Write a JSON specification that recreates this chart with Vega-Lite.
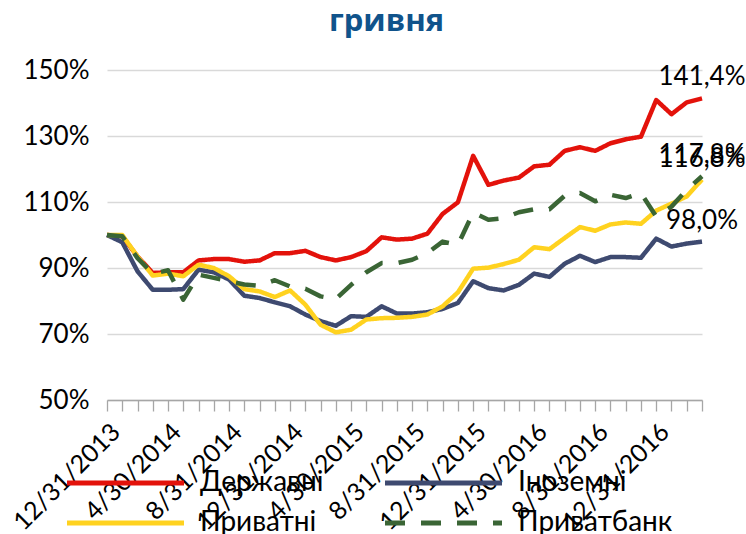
{
  "$schema": "https://vega.github.io/schema/vega-lite/v6.json",
  "autosize": {"type": "none"},
  "width": 595,
  "height": 330,
  "padding": {"left": 107, "top": 70, "right": 44, "bottom": 134},
  "background": "white",
  "title": {"text": "гривня", "font": "Open Sans", "fontSize": 31, "fontWeight": "bold", "color": "#10538B", "anchor": "middle", "dx": -18, "offset": 19},
  "data": {"values": [
    {"date":"12/31/2013","series":"Державні","value":100},
    {"date":"1/31/2014","series":"Державні","value":99.6},
    {"date":"2/28/2014","series":"Державні","value":93.5},
    {"date":"3/31/2014","series":"Державні","value":88.5},
    {"date":"4/30/2014","series":"Державні","value":88.7},
    {"date":"5/31/2014","series":"Державні","value":88.7},
    {"date":"6/30/2014","series":"Державні","value":92.3},
    {"date":"7/31/2014","series":"Державні","value":92.7},
    {"date":"8/31/2014","series":"Державні","value":92.7},
    {"date":"9/30/2014","series":"Державні","value":91.9},
    {"date":"10/31/2014","series":"Державні","value":92.3},
    {"date":"11/30/2014","series":"Державні","value":94.5},
    {"date":"12/31/2014","series":"Державні","value":94.5},
    {"date":"1/31/2015","series":"Державні","value":95.2},
    {"date":"2/28/2015","series":"Державні","value":93.3},
    {"date":"3/31/2015","series":"Державні","value":92.3},
    {"date":"4/30/2015","series":"Державні","value":93.3},
    {"date":"5/31/2015","series":"Державні","value":95.1},
    {"date":"6/30/2015","series":"Державні","value":99.3},
    {"date":"7/31/2015","series":"Державні","value":98.6},
    {"date":"8/31/2015","series":"Державні","value":98.9},
    {"date":"9/30/2015","series":"Державні","value":100.4},
    {"date":"10/31/2015","series":"Державні","value":106.4},
    {"date":"11/30/2015","series":"Державні","value":109.9},
    {"date":"12/31/2015","series":"Державні","value":124.0},
    {"date":"1/31/2016","series":"Державні","value":115.2},
    {"date":"2/29/2016","series":"Державні","value":116.5},
    {"date":"3/31/2016","series":"Державні","value":117.4},
    {"date":"4/30/2016","series":"Державні","value":120.8},
    {"date":"5/31/2016","series":"Державні","value":121.3},
    {"date":"6/30/2016","series":"Державні","value":125.5},
    {"date":"7/31/2016","series":"Державні","value":126.6},
    {"date":"8/31/2016","series":"Державні","value":125.5},
    {"date":"9/30/2016","series":"Державні","value":127.8},
    {"date":"10/31/2016","series":"Державні","value":129.0},
    {"date":"11/30/2016","series":"Державні","value":129.8},
    {"date":"12/31/2016","series":"Державні","value":140.9},
    {"date":"1/31/2017","series":"Державні","value":136.6},
    {"date":"2/28/2017","series":"Державні","value":140.2},
    {"date":"3/31/2017","series":"Державні","value":141.4,"label":"141,4%"},
    {"date":"12/31/2013","series":"Іноземні","value":100},
    {"date":"1/31/2014","series":"Іноземні","value":97.8},
    {"date":"2/28/2014","series":"Іноземні","value":89.0},
    {"date":"3/31/2014","series":"Іноземні","value":83.4},
    {"date":"4/30/2014","series":"Іноземні","value":83.4},
    {"date":"5/31/2014","series":"Іноземні","value":83.6},
    {"date":"6/30/2014","series":"Іноземні","value":89.5},
    {"date":"7/31/2014","series":"Іноземні","value":88.7},
    {"date":"8/31/2014","series":"Іноземні","value":86.5},
    {"date":"9/30/2014","series":"Іноземні","value":81.6},
    {"date":"10/31/2014","series":"Іноземні","value":80.9},
    {"date":"11/30/2014","series":"Іноземні","value":79.6},
    {"date":"12/31/2014","series":"Іноземні","value":78.4},
    {"date":"1/31/2015","series":"Іноземні","value":75.9},
    {"date":"2/28/2015","series":"Іноземні","value":73.9},
    {"date":"3/31/2015","series":"Іноземні","value":72.5},
    {"date":"4/30/2015","series":"Іноземні","value":75.4},
    {"date":"5/31/2015","series":"Іноземні","value":75.2},
    {"date":"6/30/2015","series":"Іноземні","value":78.4},
    {"date":"7/31/2015","series":"Іноземні","value":76.2},
    {"date":"8/31/2015","series":"Іноземні","value":76.2},
    {"date":"9/30/2015","series":"Іноземні","value":76.6},
    {"date":"10/31/2015","series":"Іноземні","value":77.6},
    {"date":"11/30/2015","series":"Іноземні","value":79.4},
    {"date":"12/31/2015","series":"Іноземні","value":86.0},
    {"date":"1/31/2016","series":"Іноземні","value":83.9},
    {"date":"2/29/2016","series":"Іноземні","value":83.2},
    {"date":"3/31/2016","series":"Іноземні","value":84.9},
    {"date":"4/30/2016","series":"Іноземні","value":88.3},
    {"date":"5/31/2016","series":"Іноземні","value":87.3},
    {"date":"6/30/2016","series":"Іноземні","value":91.3},
    {"date":"7/31/2016","series":"Іноземні","value":93.7},
    {"date":"8/31/2016","series":"Іноземні","value":91.8},
    {"date":"9/30/2016","series":"Іноземні","value":93.3},
    {"date":"10/31/2016","series":"Іноземні","value":93.3},
    {"date":"11/30/2016","series":"Іноземні","value":93.1},
    {"date":"12/31/2016","series":"Іноземні","value":98.9},
    {"date":"1/31/2017","series":"Іноземні","value":96.5},
    {"date":"2/28/2017","series":"Іноземні","value":97.4},
    {"date":"3/31/2017","series":"Іноземні","value":98.0,"label":"98,0%"},
    {"date":"12/31/2013","series":"Приватні","value":100},
    {"date":"1/31/2014","series":"Приватні","value":100},
    {"date":"2/28/2014","series":"Приватні","value":93.5},
    {"date":"3/31/2014","series":"Приватні","value":87.7},
    {"date":"4/30/2014","series":"Приватні","value":88.3},
    {"date":"5/31/2014","series":"Приватні","value":87.5},
    {"date":"6/30/2014","series":"Приватні","value":91.0},
    {"date":"7/31/2014","series":"Приватні","value":90.0},
    {"date":"8/31/2014","series":"Приватні","value":87.5},
    {"date":"9/30/2014","series":"Приватні","value":83.6},
    {"date":"10/31/2014","series":"Приватні","value":82.9},
    {"date":"11/30/2014","series":"Приватні","value":81.2},
    {"date":"12/31/2014","series":"Приватні","value":83.2},
    {"date":"1/31/2015","series":"Приватні","value":78.9},
    {"date":"2/28/2015","series":"Приватні","value":72.8},
    {"date":"3/31/2015","series":"Приватні","value":70.5},
    {"date":"4/30/2015","series":"Приватні","value":71.3},
    {"date":"5/31/2015","series":"Приватні","value":74.4},
    {"date":"6/30/2015","series":"Приватні","value":74.8},
    {"date":"7/31/2015","series":"Приватні","value":74.9},
    {"date":"8/31/2015","series":"Приватні","value":75.2},
    {"date":"9/30/2015","series":"Приватні","value":75.9},
    {"date":"10/31/2015","series":"Приватні","value":78.4},
    {"date":"11/30/2015","series":"Приватні","value":82.6},
    {"date":"12/31/2015","series":"Приватні","value":89.8},
    {"date":"1/31/2016","series":"Приватні","value":90.1},
    {"date":"2/29/2016","series":"Приватні","value":91.2},
    {"date":"3/31/2016","series":"Приватні","value":92.5},
    {"date":"4/30/2016","series":"Приватні","value":96.3},
    {"date":"5/31/2016","series":"Приватні","value":95.7},
    {"date":"6/30/2016","series":"Приватні","value":99.1},
    {"date":"7/31/2016","series":"Приватні","value":102.4},
    {"date":"8/31/2016","series":"Приватні","value":101.3},
    {"date":"9/30/2016","series":"Приватні","value":103.2},
    {"date":"10/31/2016","series":"Приватні","value":103.8},
    {"date":"11/30/2016","series":"Приватні","value":103.4},
    {"date":"12/31/2016","series":"Приватні","value":107.4},
    {"date":"1/31/2017","series":"Приватні","value":109.5},
    {"date":"2/28/2017","series":"Приватні","value":111.7},
    {"date":"3/31/2017","series":"Приватні","value":116.8,"label":"116,8%"},
    {"date":"12/31/2013","series":"Приватбанк","value":100},
    {"date":"1/31/2014","series":"Приватбанк","value":99.6},
    {"date":"2/28/2014","series":"Приватбанк","value":93.0},
    {"date":"3/31/2014","series":"Приватбанк","value":88.3},
    {"date":"4/30/2014","series":"Приватбанк","value":89.3},
    {"date":"5/31/2014","series":"Приватбанк","value":80.4},
    {"date":"6/30/2014","series":"Приватбанк","value":88.0},
    {"date":"7/31/2014","series":"Приватбанк","value":87.0},
    {"date":"8/31/2014","series":"Приватбанк","value":86.0},
    {"date":"9/30/2014","series":"Приватбанк","value":85.0},
    {"date":"10/31/2014","series":"Приватбанк","value":84.6},
    {"date":"11/30/2014","series":"Приватбанк","value":86.3},
    {"date":"12/31/2014","series":"Приватбанк","value":84.4},
    {"date":"1/31/2015","series":"Приватбанк","value":83.7},
    {"date":"2/28/2015","series":"Приватбанк","value":81.4},
    {"date":"3/31/2015","series":"Приватбанк","value":80.6},
    {"date":"4/30/2015","series":"Приватбанк","value":84.9},
    {"date":"5/31/2015","series":"Приватбанк","value":88.7},
    {"date":"6/30/2015","series":"Приватбанк","value":91.5},
    {"date":"7/31/2015","series":"Приватбанк","value":91.5},
    {"date":"8/31/2015","series":"Приватбанк","value":92.5},
    {"date":"9/30/2015","series":"Приватбанк","value":94.5},
    {"date":"10/31/2015","series":"Приватбанк","value":98.0},
    {"date":"11/30/2015","series":"Приватбанк","value":97.0},
    {"date":"12/31/2015","series":"Приватбанк","value":106.8},
    {"date":"1/31/2016","series":"Приватбанк","value":104.6},
    {"date":"2/29/2016","series":"Приватбанк","value":105.1},
    {"date":"3/31/2016","series":"Приватбанк","value":106.9},
    {"date":"4/30/2016","series":"Приватбанк","value":107.8},
    {"date":"5/31/2016","series":"Приватбанк","value":107.8},
    {"date":"6/30/2016","series":"Приватбанк","value":111.9},
    {"date":"7/31/2016","series":"Приватбанк","value":112.7},
    {"date":"8/31/2016","series":"Приватбанк","value":110.2},
    {"date":"9/30/2016","series":"Приватбанк","value":112.2},
    {"date":"10/31/2016","series":"Приватбанк","value":111.2},
    {"date":"11/30/2016","series":"Приватбанк","value":112.7},
    {"date":"12/31/2016","series":"Приватбанк","value":105.6},
    {"date":"1/31/2017","series":"Приватбанк","value":108.6},
    {"date":"2/28/2017","series":"Приватбанк","value":113.7},
    {"date":"3/31/2017","series":"Приватбанк","value":117.8,"label":"117,8%"}
  ]},
  "encoding": {
    "x": {
      "field": "date", "type": "ordinal", "sort": null,
      "scale": {"type": "point", "padding": 0},
      "axis": {
        "title": null, "labelAngle": -45, "labelAlign": "right", "labelBaseline": "top",
        "labelPadding": 8, "tickSize": 11, "tickColor": "#A6A6A6", "tickWidth": 1.3,
        "domainColor": "#A6A6A6", "domainWidth": 1.5,
        "labelFont": "Lato", "labelFontSize": 25, "labelColor": "#000000",
        "labelOverlap": false, "labelBound": false, "labelLimit": 0,
        "labelExpr": "indexof(['12/31/2013','4/30/2014','8/31/2014','12/31/2014','4/30/2015','8/31/2015','12/31/2015','4/30/2016','8/31/2016','12/31/2016'], datum.value) >= 0 ? datum.value : ''"
      }
    },
    "y": {
      "field": "value", "type": "quantitative",
      "scale": {"domain": [50, 150], "nice": false, "zero": false},
      "axis": {
        "title": null, "values": [50, 70, 90, 110, 130, 150],
        "labelExpr": "datum.value + '%'", "domain": false, "ticks": false,
        "grid": true, "gridColor": "#D9D9D9", "gridWidth": 1.3,
        "labelFont": "Lato", "labelFontSize": 26, "labelColor": "#000000", "labelPadding": 18
      }
    }
  },
  "layer": [
    {
      "mark": {"type": "line", "strokeWidth": 4.5, "strokeCap": "butt", "strokeJoin": "round"},
      "encoding": {
        "color": {
          "field": "series", "type": "nominal",
          "scale": {"domain": ["Державні", "Приватні", "Іноземні", "Приватбанк"], "range": ["#E3120B", "#FFD21F", "#3E4A70", "#3A6535"]},
          "legend": {"title": null, "orient": "none", "legendX": 4.5, "legendY": 399, "columns": 2, "symbolType": "M-11.7,0L11.7,0", "symbolSize": 100, "symbolStrokeWidth": 5, "labelFont": "Lato", "labelFontSize": 28, "labelColor": "#000000", "labelOffset": 60.5, "rowPadding": 12, "columnPadding": 51, "labelLimit": 0, "padding": 0}
        },
        "strokeDash": {
          "field": "series", "type": "nominal",
          "scale": {"domain": ["Державні", "Приватні", "Іноземні", "Приватбанк"], "range": [[1, 0], [1, 0], [1, 0], [20, 16]]},
          "legend": {"title": null, "orient": "none", "legendX": 4.5, "legendY": 399, "columns": 2, "symbolType": "M-11.7,0L11.7,0", "symbolSize": 100, "symbolStrokeWidth": 5, "labelFont": "Lato", "labelFontSize": 28, "labelColor": "#000000", "labelOffset": 60.5, "rowPadding": 12, "columnPadding": 51, "labelLimit": 0, "padding": 0}
        }
      }
    },
    {
      "transform": [{"filter": "isValid(datum.label)"}],
      "mark": {"type": "text", "font": "Lato", "fontSize": 26, "color": "#000000", "align": "center", "baseline": "alphabetic", "dy": -13},
      "encoding": {"text": {"field": "label"}}
    }
  ],
  "config": {"view": {"stroke": null}}
}
